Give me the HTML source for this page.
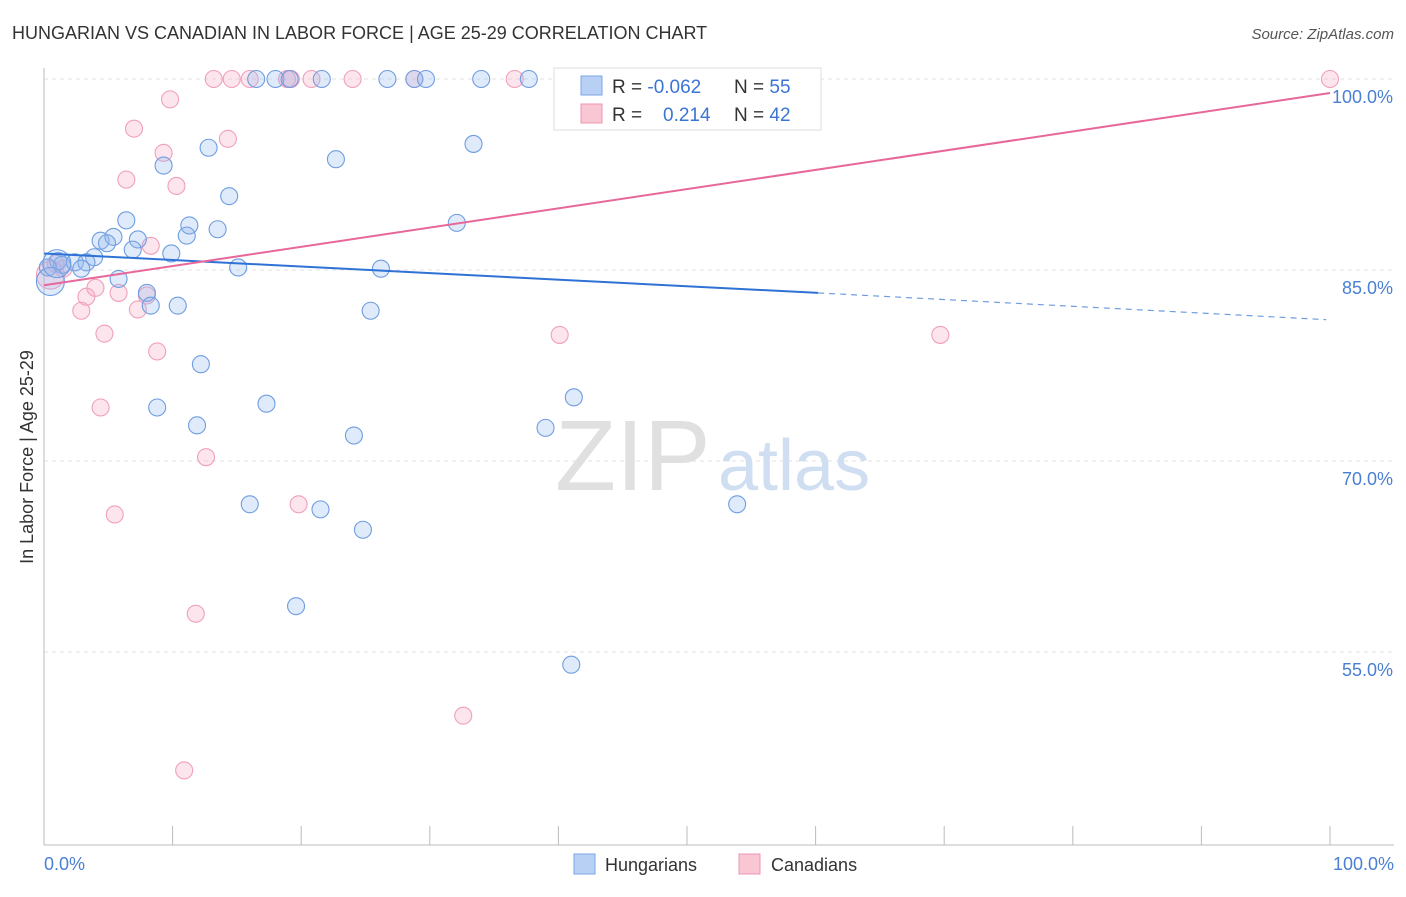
<!DOCTYPE html>
<html><head><meta charset="utf-8"><style>
body{margin:0;background:#fff;font-family:"Liberation Sans",sans-serif;}
svg text{font-family:"Liberation Sans",sans-serif;}
</style></head><body>
<svg id="chart" width="1406" height="892" viewBox="0 0 1406 892" xmlns="http://www.w3.org/2000/svg">
<text x="12" y="39" font-size="18" fill="#333">HUNGARIAN VS CANADIAN IN LABOR FORCE | AGE 25-29 CORRELATION CHART</text>
<text x="1394" y="39" font-size="15" fill="#555" text-anchor="end" font-style="italic">Source: ZipAtlas.com</text>
<g id="grid"></g>
<text x="555" y="490" font-size="100" fill="#e0e0e0" font-family="Liberation Serif">ZIP</text>
<text x="718" y="490" font-size="72" fill="#d0def2">atlas</text>
<line x1="44" y1="68" x2="44" y2="845" stroke="#bbb"/>
<line x1="44" y1="845" x2="1394" y2="845" stroke="#bbb"/>
<g id="ticks"></g>
<g id="pts"></g>
<g id="lines"></g>
<text x="33" y="457" font-size="18" fill="#333" transform="rotate(-90 33 457)" text-anchor="middle">In Labor Force | Age 25-29</text>
<text x="44" y="870" font-size="18" fill="#4a7fd4">0.0%</text>
<text x="1394" y="870" font-size="18" fill="#4a7fd4" text-anchor="end">100.0%</text>
<g>
<rect x="554" y="68" width="267" height="62" fill="#fff" stroke="#ddd"/>
<rect x="581" y="76" width="21" height="19" fill="#b8d0f4" stroke="#7aa6e6"/>
<rect x="581" y="104" width="21" height="19" fill="#f9c6d4" stroke="#ef94b1"/>
<text x="612" y="93" font-size="19" fill="#333">R = <tspan fill="#3a75d4">-0.062</tspan></text>
<text x="734" y="93" font-size="19" fill="#333">N = <tspan fill="#3a75d4">55</tspan></text>
<text x="612" y="121" font-size="19" fill="#333">R = <tspan fill="#3a75d4" x="663">0.214</tspan></text>
<text x="734" y="121" font-size="19" fill="#333">N = <tspan fill="#3a75d4">42</tspan></text>
</g>
<g>
<rect x="574" y="854" width="21" height="20" fill="#b8d0f4" stroke="#7aa6e6"/>
<text x="605" y="871" font-size="18" fill="#333">Hungarians</text>
<rect x="739" y="854" width="21" height="20" fill="#f9c6d4" stroke="#ef94b1"/>
<text x="771" y="871" font-size="18" fill="#333">Canadians</text>
</g>
</svg>
<script>
const yTicks=[100,85,70,55];
const yTickLabels=["100.0%","85.0%","70.0%","55.0%"];
const xTicks=[0,10,20,30,40,50,60,70,80,90,100];
const hungX=[16.5,18,19.1,21.6,26.7,28.8,29.7,34,37.7,51,12.8,9.3,22.7,33.4,14.4,6.4,11.3,13.5,11.1,4.4,5.4,4.9,7.3,6.9,9.9,32.1,3.9,1.1,1.4,2.4,3.3,2.9,0.3,15.1,26.2,5.8,8,8.3,10.4,25.4,12.2,8.8,17.3,41.2,11.9,24.1,39,16,21.5,24.8,53.9,19.6,41,0.5,1];
const hungY=[100,100,100,100,100,100,100,100,100,100,94.6,93.2,93.7,94.9,90.8,88.9,88.5,88.2,87.7,87.3,87.6,87.1,87.4,86.6,86.3,88.7,86,85.7,85.4,85.6,85.6,85.1,85.2,85.2,85.1,84.3,83.2,82.2,82.2,81.8,77.6,74.2,74.5,75,72.8,72,72.6,66.6,66.2,64.6,66.6,58.6,54,84.1,85.5];
const canX=[13.2,14.6,16,18.9,19.2,20.8,24,28.8,36.6,55.4,100,9.8,7,9.3,14.3,6.4,10.3,8.3,1.5,0.9,3.3,4,5.8,8,2.9,7.3,4.7,8.8,40.1,69.7,4.4,12.6,5.5,19.8,11.8,32.6,10.9,0.5];
const canY=[100,100,100,100,100,100,100,100,100,100,100,98.4,96.1,94.2,95.3,92.1,91.6,86.9,85.1,85.5,82.9,83.6,83.2,83,81.8,81.9,80,78.6,79.9,79.9,74.2,70.3,65.8,66.6,58,50,45.7,84.6];
const hungBig=[0,0,0,0,0,0,0,0,0,0,0,0,0,0,0,0,0,0,0,0,0,0,0,0,0,0,0,0,0,0,0,0,0,0,0,0,0,0,0,0,0,0,0,0,0,0,0,0,0,0,0,0,0,1,1];
const canBig=[0,0,0,0,0,0,0,0,0,0,0,0,0,0,0,0,0,0,0,0,0,0,0,0,0,0,0,0,0,0,0,0,0,0,0,0,0,1];
const hungTrend=[86.3,83.2,81.1];
const canTrend=[83.8,98.9];
const NS="http://www.w3.org/2000/svg";
const X=v=>44+v*12.86, Y=v=>79+(100-v)*12.733;
function mk(p,t,a){const e=document.createElementNS(NS,t);for(const k in a)e.setAttribute(k,a[k]);p.appendChild(e);return e;}
const grid=document.getElementById('grid');
yTicks.forEach((v,i)=>{
 const l=mk(grid,'line',{x1:44,x2:1394,y1:Y(v),y2:Y(v),stroke:'#e2e2e2','stroke-dasharray':'4,4'});
 
 
 const t=mk(grid,'text',{x:1393,y:Y(v)+24,'font-size':18,fill:'#4a7fd4','text-anchor':'end'});t.textContent=yTickLabels[i];
 
 
});
const tk=document.getElementById('ticks');
xTicks.forEach(v=>{const l=mk(tk,'line',{x1:X(v),x2:X(v),y1:826,y2:845,stroke:'#bbb'});
 
 });
const pts=document.getElementById('pts');
canX.forEach((x,i)=>{const c=mk(pts,'circle',{cx:X(x),cy:Y(canY[i]),r:canBig[i]?14:8.5,fill:'rgba(246,170,195,0.3)',stroke:'#f0a0bb','stroke-width':1.1});
 
 });
hungX.forEach((x,i)=>{const c=mk(pts,'circle',{cx:X(x),cy:Y(hungY[i]),r:hungBig[i]?14:8.5,fill:'rgba(150,185,240,0.3)',stroke:'#6f9de0','stroke-width':1.1});
 
 });
const ln=document.getElementById('lines');
let a=mk(ln,'line',{x1:X(0),y1:Y(hungTrend[0]),x2:X(60.2),y2:Y(hungTrend[1]),stroke:'#2f72d6','stroke-width':2});


a=mk(ln,'line',{x1:X(60.2),y1:Y(hungTrend[1]),x2:X(99.7),y2:Y(hungTrend[2]),stroke:'#6f9de0','stroke-width':1.2,'stroke-dasharray':'6,5'});


a=mk(ln,'line',{x1:X(0),y1:Y(canTrend[0]),x2:X(100),y2:Y(canTrend[1]),stroke:'#e8679a','stroke-width':2});


</script>
</body></html>
